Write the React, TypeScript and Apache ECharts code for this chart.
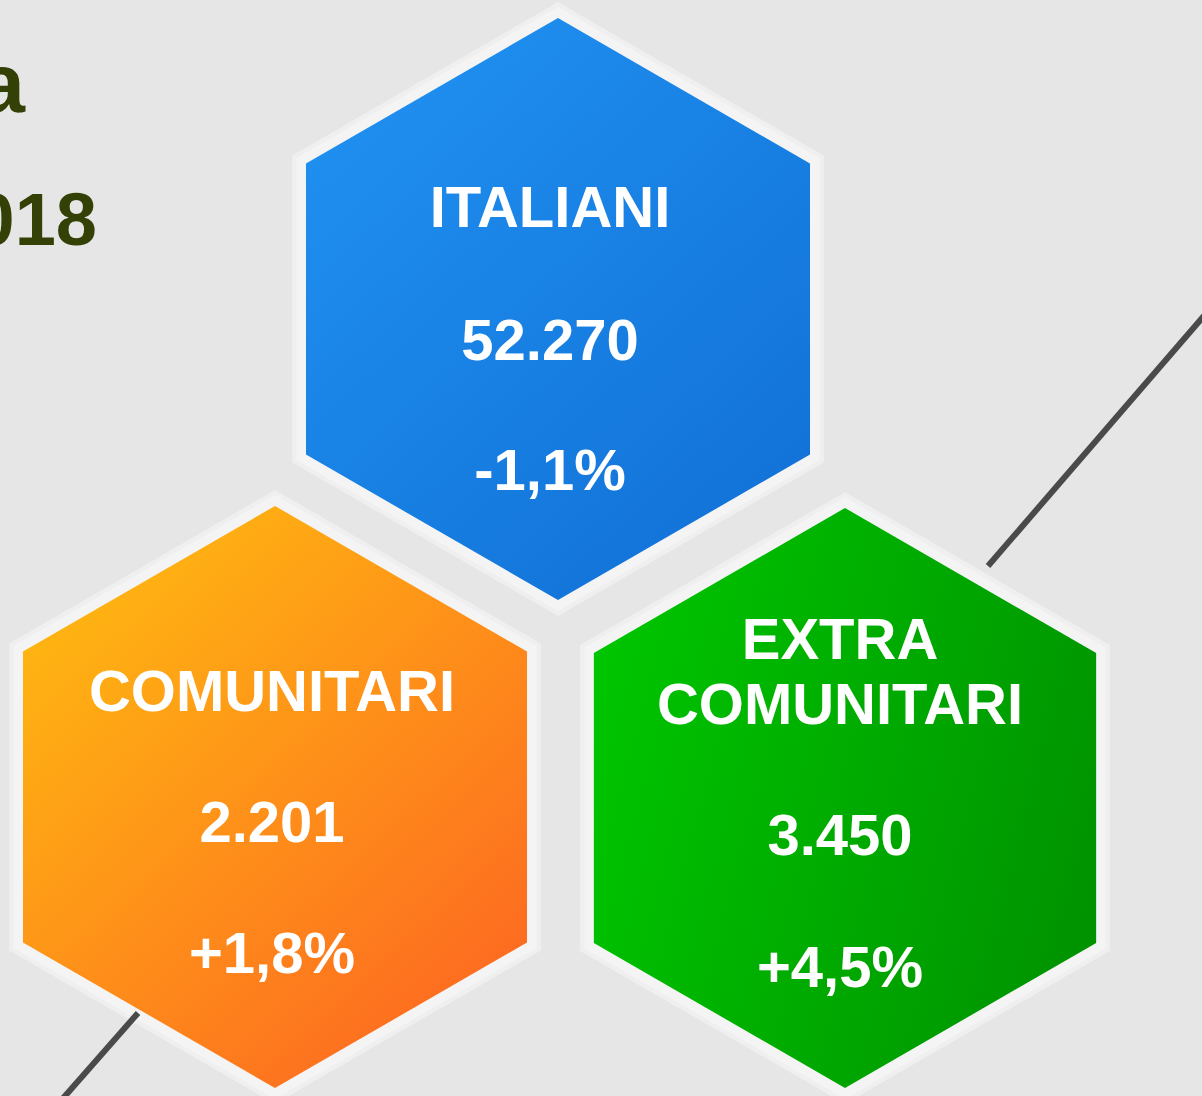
import React, { useEffect, useRef } from 'react';
import * as echarts from 'echarts';

// ---- data ----
const categories: string[] = ['ITALIANI', 'COMUNITARI', 'EXTRA\nCOMUNITARI'];
const residents: number[] = [52270, 2201, 3450];
const changes: number[] = [-1.1, 1.8, 4.5];
const titleFragments: string[] = ['a', '2018'];

// ---- layout (pixel-like axis units) ----
const W = 1202;
const H = 1096;
const hexCenters: number[][] = [[558, 309], [275, 797], [845, 798]];
const hexRadius: number[] = [291, 291, 290];
// text block x offset, and vertical offsets from centre for: category label, value, change
const labelDx: number[] = [-8, -3, -5];
const labelOffsets: number[][] = [[-103, 30, 160], [-107, 24, 155], [-127, 36, 168]];
const hexGradients: string[][] = [
  ['#2092f2', '#116fd5'],
  ['#ffbd10', '#fd6322'],
  ['#00c400', '#009300'],
];
const gradientDir: number[][] = [[0.1, 0, 0.9, 1], [0.1, 0, 0.9, 1], [0, 0.35, 1, 0.65]];
const arrowLow: number[][] = [[58, 1104], [138, 1013]];
const arrowHigh: number[][] = [[988, 566], [1216, 302]];

const fmtNum = (n: number) => String(n).replace(/\B(?=(\d{3})+(?!\d))/g, '.');
const fmtPct = (v: number) => (v > 0 ? '+' : '') + v.toFixed(1).replace('.', ',') + '%';

const FONT = '"Liberation Sans", Arial, Helvetica, sans-serif';

export default function App() {
  const ref = useRef<HTMLDivElement>(null);
  useEffect(() => {
    if (!ref.current) return;
    document.body.style.margin = '0';
    const chart = echarts.init(ref.current, undefined, { renderer: 'svg' });

    const hexPoints = (cx: number, cy: number, r: number) => {
      const pts: number[][] = [];
      for (let k = 0; k < 6; k++) {
        const a = ((-90 + 60 * k) * Math.PI) / 180;
        pts.push([cx + r * Math.cos(a), cy + r * Math.sin(a)]);
      }
      return pts;
    };

    const option: any = {
      animation: false,
      backgroundColor: '#e6e6e6',
      grid: { left: 0, right: 0, top: 0, bottom: 0 },
      xAxis: { type: 'value', min: 0, max: W, show: false },
      yAxis: { type: 'value', min: 0, max: H, inverse: true, show: false },
      graphic: [
        {
          type: 'text',
          x: 25,
          y: 83,
          style: {
            text: titleFragments[0],
            fill: '#344106',
            fontSize: 84,
            fontWeight: 'bold',
            fontFamily: FONT,
            align: 'right',
            verticalAlign: 'middle',
          },
        },
        {
          type: 'text',
          x: 97,
          y: 219,
          style: {
            text: titleFragments[1],
            fill: '#344106',
            fontSize: 74,
            fontWeight: 'bold',
            fontFamily: FONT,
            align: 'right',
            verticalAlign: 'middle',
          },
        },
      ],
      series: [
        {
          type: 'custom',
          z: 2,
          coordinateSystem: 'cartesian2d',
          data: categories.map((_, i) => [hexCenters[i][0], hexCenters[i][1], i]),
          renderItem: (params: any, api: any) => {
            const i = params.dataIndex;
            const c = api.coord([api.value(0), api.value(1)]);
            const r = api.size([hexRadius[i], 0])[0];
            const d = gradientDir[i];
            const grad = new echarts.graphic.LinearGradient(d[0], d[1], d[2], d[3], [
              { offset: 0, color: hexGradients[i][0] },
              { offset: 1, color: hexGradients[i][1] },
            ]);
            const off = labelOffsets[i];
            const tx = c[0] + labelDx[i];
            const textEl = (text: string, dy: number) => ({
              type: 'text',
              style: {
                text,
                x: tx,
                y: c[1] + dy,
                fill: '#ffffff',
                fontSize: 58,
                fontWeight: 'bold',
                fontFamily: FONT,
                align: 'center',
                verticalAlign: 'middle',
                lineHeight: 65,
              },
            });
            return {
              type: 'group',
              children: [
                {
                  type: 'polygon',
                  shape: { points: hexPoints(c[0], c[1], r + 16) },
                  style: { fill: 'rgba(246,246,246,0.55)' },
                },
                {
                  type: 'polygon',
                  shape: { points: hexPoints(c[0], c[1], r + 11) },
                  style: { fill: '#f4f4f4' },
                },
                {
                  type: 'polygon',
                  shape: { points: hexPoints(c[0], c[1], r) },
                  style: { fill: grad },
                },
                textEl(categories[i], off[0]),
                textEl(fmtNum(residents[i]), off[1]),
                textEl(fmtPct(changes[i]), off[2]),
              ],
            };
          },
        },
        {
          type: 'line',
          z: 3,
          data: arrowLow,
          showSymbol: false,
          symbol: 'none',
          lineStyle: { color: '#4a4a4a', width: 6 },
        },
        {
          type: 'line',
          z: 3,
          data: arrowHigh,
          showSymbol: false,
          symbol: 'none',
          lineStyle: { color: '#4a4a4a', width: 6 },
        },
      ],
    };
    chart.setOption(option);
    return () => chart.dispose();
  }, []);
  return (
    <div
      ref={ref}
      style={{ position: 'absolute', left: 0, top: 0, width: W, height: H }}
    />
  );
}
